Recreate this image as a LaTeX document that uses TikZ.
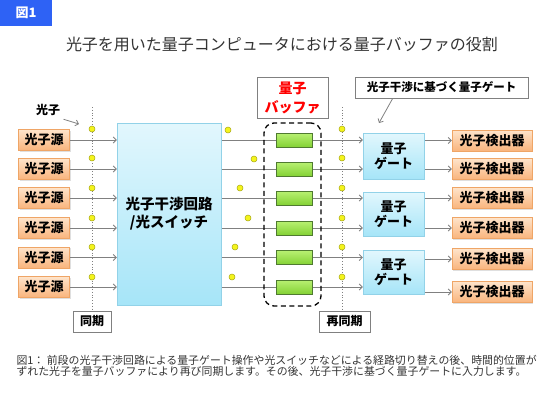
\documentclass[tikz,border=0pt]{standalone}
\usepackage{fontspec}
\setmainfont{Noto Sans CJK JP}
\usetikzlibrary{arrows.meta,backgrounds,shadows}
\definecolor{tabblue}{HTML}{2E62F5}
\definecolor{srctop}{HTML}{FEE4CB}
\definecolor{srcbot}{HTML}{F9B47C}
\definecolor{srcedge}{HTML}{EFA566}
\definecolor{cytop}{HTML}{E2F7FD}
\definecolor{cybot}{HTML}{A6E5F8}
\definecolor{cyedge}{HTML}{92D2E8}
\definecolor{grtop}{HTML}{B8F072}
\definecolor{grbot}{HTML}{84D235}
\definecolor{gredge}{HTML}{4F7A30}
\definecolor{dotfill}{HTML}{F4F41C}
\definecolor{dotedge}{HTML}{A8A812}
\definecolor{wiregray}{HTML}{808080}
\definecolor{textgray}{HTML}{333333}
\newcommand{\fsz}[1]{\fontsize{#1}{#1}\selectfont}
\tikzset{
  boxshadow/.style={drop shadow={shadow xshift=1pt,shadow yshift=-1pt,opacity=0.25}},
  srcbox/.style={draw=srcedge, top color=srctop, bottom color=srcbot, boxshadow,
    inner sep=0pt, minimum height=21pt, font=\fsz{13}\bfseries},
  cybox/.style={draw=cyedge, top color=cytop, bottom color=cybot, boxshadow,
    inner sep=0pt, align=center},
  bufcell/.style={draw=gredge, top color=grtop, bottom color=grbot,
    inner sep=0pt, minimum width=36pt, minimum height=14pt},
  tagbox/.style={draw=wiregray, fill=white, boxshadow, inner sep=0pt,
    minimum height=21pt, font=\fsz{12}\bfseries},
  wire/.style={draw=wiregray, line width=0.8pt},
  arrowwire/.style={wire, -{Straight Barb[length=3pt,width=6pt]}},
  syncline/.style={draw=wiregray, line width=0.8pt, dotted},
  photondot/.style={fill=dotfill, draw=dotedge, line width=0.5pt},
}
\begin{document}
\begin{tikzpicture}[x=1pt,y=-1pt]
  \useasboundingbox (0,0) rectangle (550,400);
  % header
  \node[fill=tabblue, text=white, anchor=north west, minimum width=52pt, minimum height=26pt,
    inner sep=0pt, font=\fsz{13}\bfseries] (tab) at (0,0) {図1};
  \node[text=textgray, font=\fsz{16}] (title) at (282,44) {光子を用いた量子コンピュータにおける量子バッファの役割};
  % sources, buffer, detectors
  \foreach \y [count=\i] in {140,169,198,228,257.5,287} {
    \node[srcbox, minimum width=51pt] (src\i) at (44,\y) {光子源};
    \node[bufcell] (buf\i) at (294,\y) {};
  }
  \foreach \y [count=\i] in {140.5,169,198,228,259,292}
    \node[srcbox, minimum width=80pt] (det\i) at (492,\y) {光子検出器};
  % switch and gates
  \node[cybox, minimum width=104pt, minimum height=182pt, font=\fontsize{14.5}{18}\selectfont\bfseries]
    (sw) at (169,214) {光子干渉回路\\/光スイッチ};
  \foreach \y/\h [count=\g] in {156/46,214/44,272/44}
    \node[cybox, minimum width=61pt, minimum height=\h pt, font=\fontsize{13}{15}\selectfont\bfseries]
      (gate\g) at (393.5,\y) {量子\\ゲート};
  \node[draw, dash pattern=on 5pt off 3.5pt, line width=1.3pt, rounded corners=10pt,
    minimum width=57pt, minimum height=183pt] (bufframe) at (292.5,214.5) {};
  % labels
  \node[tagbox, minimum width=71pt, minimum height=41pt, text=red, align=center,
    font=\fontsize{14}{19}\selectfont\bfseries] (bufname) at (292.5,97.5) {量子\\バッファ};
  \node[tagbox, minimum width=173pt, font=\fsz{11.5}\bfseries] (gatename) at (441.5,87.5) {光子干渉に基づく量子ゲート};
  \node[tagbox, minimum width=38pt] (sync) at (92,321.5) {同期};
  \node[tagbox, minimum width=51pt] (resync) at (344.5,321.5) {再同期};
  \node[font=\fsz{12}\bfseries] (photon) at (48,110) {光子};
  \coordinate (photontip) at (79,124);
  \coordinate (gatetip) at (379,123);
  \draw[arrowwire] (photon.south east) -- (photontip);
  \draw[arrowwire] ([xshift=38pt]gatename.south west) -- (gatetip);
  % connectors
  \begin{scope}[on background layer]
    \foreach \i in {1,...,6}
      \draw[arrowwire] (src\i.east) -- (src\i.east -| sw.west);
    \foreach \i/\g in {1/1,2/1,3/2,4/2,5/3,6/3} {
      \draw[arrowwire] (buf\i.west -| sw.east) -- (buf\i.west -| gate\g.west);
      \draw[arrowwire] (det\i.west -| gate\g.east) -- (det\i.west);
    }
  \end{scope}
  % sync lines and photons
  \coordinate (synctop) at (92,107);
  \coordinate (resynctop) at (342,107);
  \draw[syncline] (synctop) -- (synctop |- sync.north);
  \draw[syncline] (resynctop) -- (resynctop |- resync.north);
  \foreach \y in {129,158,188,218,247,277} {
    \draw[photondot] (92,\y) circle (3pt);
    \draw[photondot] (342,\y) circle (3pt);
  }
  \foreach \x/\y in {228/130,254/159,240/188,248/218,235/247,232/277}
    \draw[photondot] (\x,\y) circle (3pt);
  % caption
  \node[anchor=west, align=left, text=textgray, font=\fontsize{10.9}{10.8}\selectfont] (caption) at (13,365.5)
    {図1：\ 前段の光子干渉回路による量子ゲート操作や光スイッチなどによる経路切り替えの後、時間的位置が\\
     ずれた光子を量子バッファにより再び同期します。その後、光子干渉に基づく量子ゲートに入力します。};
\end{tikzpicture}
\end{document}
